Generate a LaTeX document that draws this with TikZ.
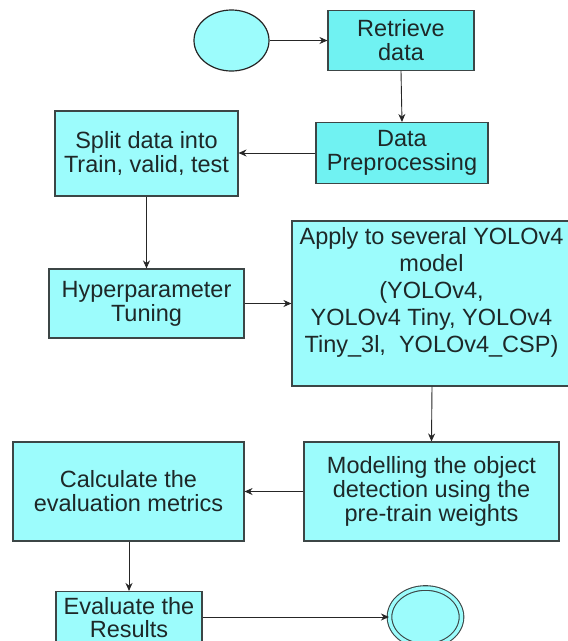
\documentclass[tikz,border=0pt]{standalone}
\usepackage{fontspec}
\setmainfont{Liberation Sans}
\usetikzlibrary{arrows.meta,shapes.geometric}
\definecolor{boxfill}{RGB}{156,252,252}
\definecolor{boxfilltop}{RGB}{112,242,242}
\definecolor{boxline}{RGB}{60,70,70}
\definecolor{inkcol}{RGB}{30,40,40}
\tikzset{
  procbox/.style={draw=boxline, line width=1.1pt, fill=boxfill, inner sep=0pt,
    text=inkcol, align=center, font=\fontsize{23.5}{24}\selectfont},
  txt/.style={inner sep=0pt, text=inkcol, align=center},
  flow/.style={draw=black!85, line width=0.9pt, -{Stealth[length=8pt,width=7pt]}},
  startstate/.style={ellipse, draw=black!85, line width=1.2pt, fill=boxfill,
    minimum width=75pt, minimum height=61pt, inner sep=0pt},
  endstate/.style={ellipse, draw=boxline, line width=1.1pt, double=boxfill,
    double distance=3.5pt, fill=boxfill, minimum width=72pt, minimum height=58pt, inner sep=0pt}
}
\begin{document}
\begin{tikzpicture}[x=1pt,y=-1pt]
  \useasboundingbox (0,0) rectangle (568,641);
  \clip (0,0) rectangle (568,641);

  % start and end states
  \node[startstate] (start) at (231.5,40.5) {};
  \node[endstate] (stop) at (425.5,617) {};

  % process steps
  \node[procbox, fill=boxfilltop, minimum width=146pt, minimum height=60pt] (retrieve) at (401,40.5) {Retrieve\\data};
  \node[procbox, fill=boxfilltop, minimum width=172pt, minimum height=61pt] (prep) at (402,153) {Data\\Preprocessing};
  \node[procbox, minimum width=183pt, minimum height=85pt] (split) at (146.5,153.5) {Split data into\\Train, valid, test};
  \node[procbox, minimum width=195pt, minimum height=69pt] (hyper) at (146.5,303.5) {Hyperparameter\\Tuning};
  \node[procbox, minimum width=280pt, minimum height=165pt] (apply) at (432,303.5) {};
  \node[txt, font=\fontsize{23.5}{27}\selectfont] (applytxt) at (431.5,292.5)
    {Apply to several YOLOv4\\model\\(YOLOv4,\\YOLOv4 Tiny, YOLOv4\\Tiny\_3l,\ \ YOLOv4\_CSP)};
  \node[procbox, minimum width=255pt, minimum height=99pt] (model) at (431.5,491.5) {Modelling the object\\detection using the\\pre-train weights};
  \node[procbox, minimum width=231pt, minimum height=99pt] (calc) at (128.5,491.5) {Calculate the\\evaluation metrics};
  \node[procbox, font=\fontsize{23.5}{22.5}\selectfont, minimum width=146pt, minimum height=52pt] (eval) at (129,617.5) {Evaluate the\\Results};

  % connectors
  \draw[flow] (start.east) -- (retrieve.west |- start.east);
  \draw[flow] (retrieve.south) -- (prep.north);
  \draw[flow] (prep.west) -- (split.east |- prep.west);
  \draw[flow] (split.south) -- (hyper.north);
  \draw[flow] (hyper.east) -- (apply.west |- hyper.east);
  \draw[flow] (apply.south) -- (model.north);
  \draw[flow] (model.west) -- (calc.east |- model.west);
  \draw[flow] (calc.south -| eval.north) -- (eval.north);
  \draw[flow] (eval.east |- stop.west) -- (stop.west);
\end{tikzpicture}
\end{document}
